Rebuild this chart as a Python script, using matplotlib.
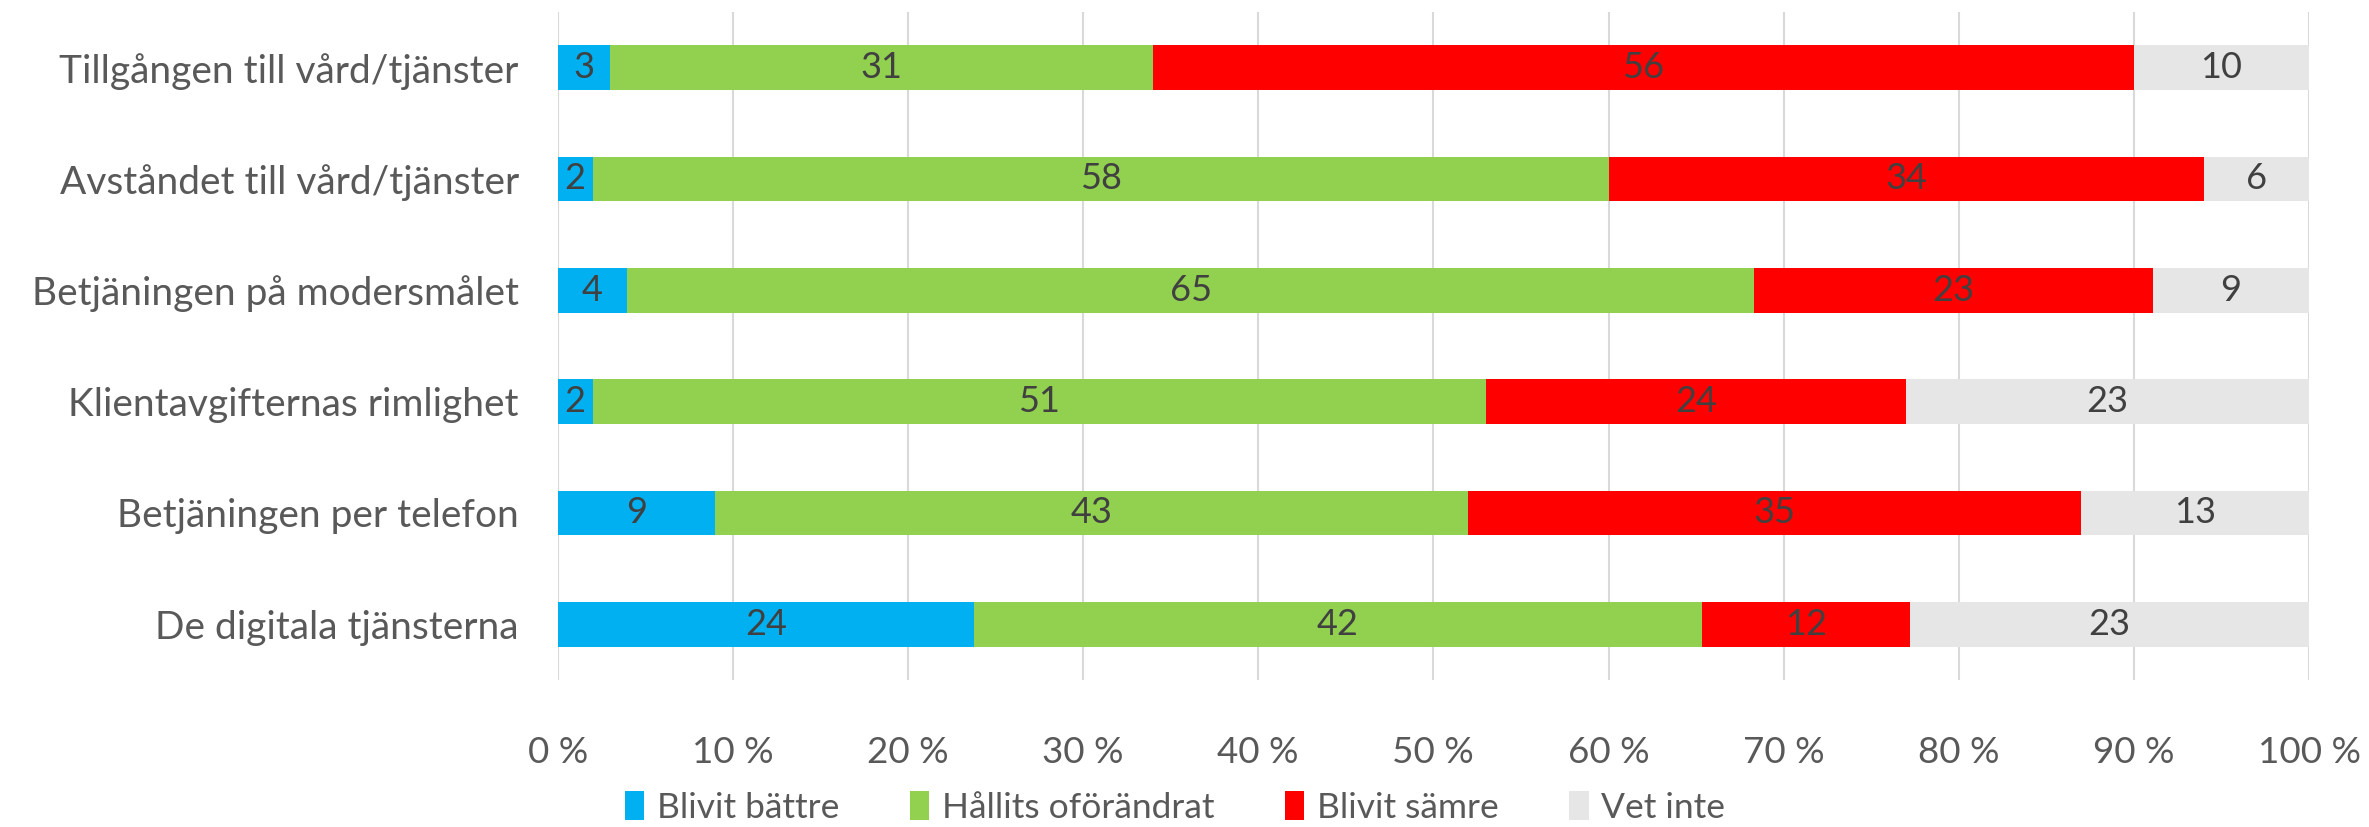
import matplotlib

matplotlib.use("Agg")
import matplotlib.pyplot as plt
import numpy as np

categories = [
    "Tillgången till vård/tjänster",
    "Avståndet till vård/tjänster",
    "Betjäningen på modersmålet",
    "Klientavgifternas rimlighet",
    "Betjäningen per telefon",
    "De digitala tjänsterna",
]
series_names = ["Blivit bättre", "Hållits oförändrat", "Blivit sämre", "Vet inte"]
better = [3, 2, 4, 2, 9, 24]
unchanged = [31, 58, 65, 51, 43, 42]
worse = [56, 34, 23, 24, 35, 12]
dont_know = [10, 6, 9, 23, 13, 23]
colors = ["#00B0F0", "#92D050", "#FF0000", "#E6E6E6"]

plt.rcParams["font.family"] = ["Lato", "DejaVu Sans"]

data = np.array([better, unchanged, worse, dont_know], dtype=float)
shares = data / data.sum(axis=0) * 100

fig = plt.figure(figsize=(23.69, 8.27), dpi=100)
ax = fig.add_axes([0.2354, 0.1778, 0.7393, 0.8077])
y = np.arange(len(categories))
left = np.zeros(len(categories))
for i, name in enumerate(series_names):
    ax.barh(y, shares[i], left=left, height=0.4, color=colors[i], label=name, zorder=2)
    for j in range(len(categories)):
        ax.text(left[j] + shares[i][j] / 2, y[j], f"{int(data[i][j])}", ha="center", va="center",
                fontsize=26, color="#404040", zorder=3)
    left += shares[i]

ax.set_xlim(0, 100)
ax.set_ylim(len(categories) - 0.5, -0.5)
ax.set_yticks(y)
ax.set_yticklabels(categories, fontsize=28, color="#595959")
ax.set_xticks(np.arange(0, 101, 10))
ax.set_xticklabels([f"{v} %" for v in range(0, 101, 10)], fontsize=26.5, color="#595959")
ax.xaxis.grid(True, color="#D9D9D9", linewidth=1.5, zorder=0)
ax.tick_params(axis="y", length=0, pad=28)
ax.tick_params(axis="x", length=0, pad=40)
for s in ax.spines.values():
    s.set_visible(False)

fig.legend(*ax.get_legend_handles_labels(), loc="center", bbox_to_anchor=(0.496, 0.024),
           bbox_transform=fig.transFigure, ncol=4, frameon=False, fontsize=25.5,
           handlelength=0.55, handleheight=0.9, handletextpad=0.35, columnspacing=2.0,
           labelcolor="#595959")

fig.savefig("out.png")
